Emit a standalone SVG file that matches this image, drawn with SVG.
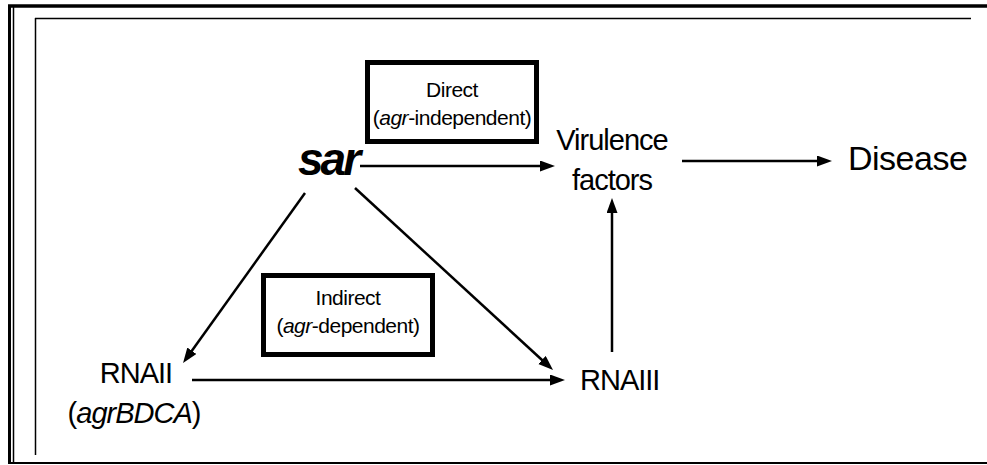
<svg xmlns="http://www.w3.org/2000/svg" width="987" height="465" viewBox="0 0 987 465">
<style>
text{font-family:"Liberation Sans",Arial,sans-serif;fill:#000}
.frame{stroke:#000;fill:none}
.box{fill:none;stroke:#000;stroke-width:5}
.lbl{font-size:21px;text-anchor:middle;letter-spacing:-0.5px}
.node{font-size:29px;letter-spacing:-1px}
.edge{stroke:#000;stroke-width:2.5;fill:none;marker-end:url(#ah)}
</style>
<defs>
<marker id="ah" markerUnits="userSpaceOnUse" markerWidth="17" markerHeight="12" refX="6" refY="5.5" orient="auto">
<path d="M0,0 L15,5.5 L0,11 z" fill="#000"/>
</marker>
</defs>
<rect width="987" height="465" fill="#fff"/>
<g id="frame">
<line class="frame" x1="8" y1="6" x2="987" y2="6" stroke-width="3.5"/>
<line class="frame" x1="9.5" y1="6" x2="9.5" y2="464" stroke-width="3"/>
<line class="frame" x1="13.5" y1="6" x2="13.5" y2="464" stroke-width="1.5"/>
<line class="frame" x1="8" y1="463" x2="987" y2="463" stroke-width="2"/>
<line class="frame" x1="35" y1="18.5" x2="971" y2="18.5" stroke-width="1.5"/>
<line class="frame" x1="35.5" y1="18" x2="35.5" y2="455" stroke-width="1.5"/>
</g>
<g id="connectors">
<line class="edge" x1="360" y1="166" x2="546" y2="166"/>
<line class="edge" x1="682" y1="161" x2="823" y2="161"/>
<line class="edge" x1="305" y1="193" x2="188.3" y2="355.7"/>
<line class="edge" x1="355" y1="188" x2="546.4" y2="364"/>
<line class="edge" x1="192" y1="380" x2="556" y2="380"/>
<line class="edge" x1="612" y1="352" x2="612" y2="207"/>
</g>
<g id="direct-box">
<rect class="box" x="367.5" y="62.5" width="169" height="79"/>
<text class="lbl" x="452" y="97">Direct</text>
<text class="lbl" x="452" y="125">(<tspan font-style="italic">agr</tspan>-independent)</text>
</g>
<g id="indirect-box">
<rect class="box" x="263.5" y="275.5" width="169" height="79"/>
<text class="lbl" x="348" y="305">Indirect</text>
<text class="lbl" x="348" y="333">(<tspan font-style="italic">agr</tspan>-dependent)</text>
</g>
<g id="sar">
<text x="298" y="175" font-size="46" font-weight="bold" font-style="italic" letter-spacing="-3">sar</text>
</g>
<g id="virulence">
<text class="node" x="612" y="150" text-anchor="middle">Virulence</text>
<text class="node" x="612" y="190" text-anchor="middle">factors</text>
</g>
<g id="disease">
<text x="848" y="170" font-size="34" letter-spacing="-0.5">Disease</text>
</g>
<g id="rnaii">
<text class="node" x="136" y="383" text-anchor="middle" font-size="28">RNAII</text>
<text class="node" x="134" y="423" text-anchor="middle" font-size="28">(<tspan font-style="italic">agrBDCA</tspan>)</text>
</g>
<g id="rnaiii">
<text class="node" x="580" y="390">RNAIII</text>
</g>
</svg>
